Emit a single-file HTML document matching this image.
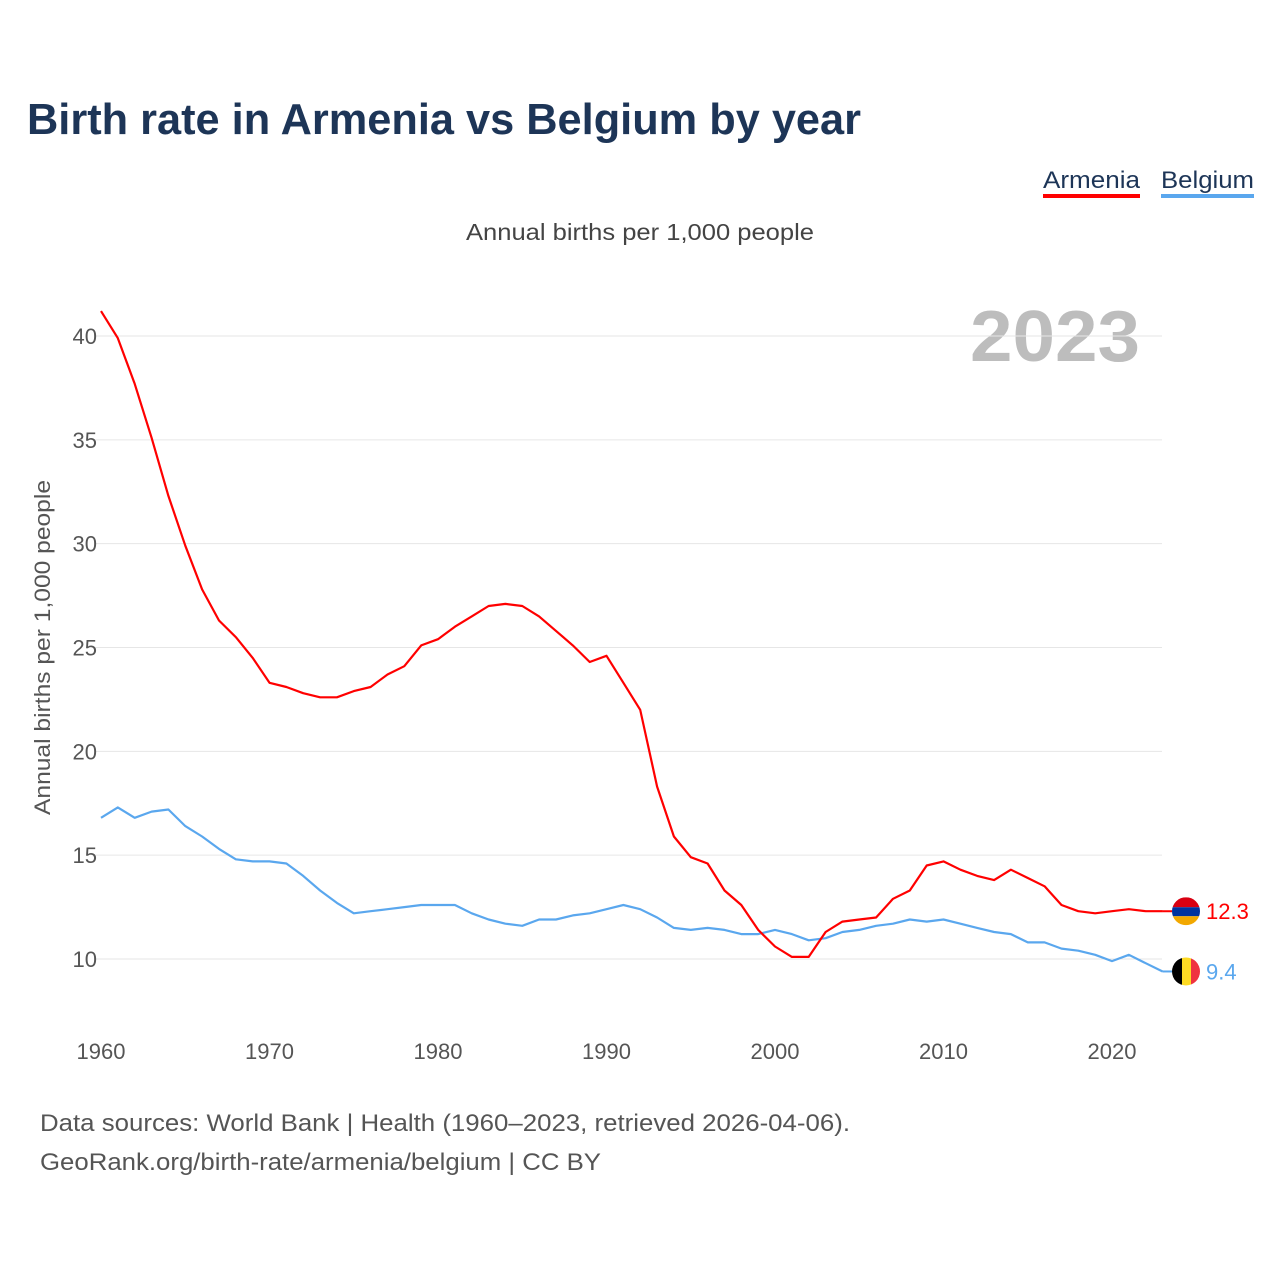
<!DOCTYPE html>
<html><head><meta charset="utf-8"><style>
body{margin:0;background:#fff;font-family:"Liberation Sans",sans-serif}
#wrap{position:relative;width:1280px;height:1280px;background:#fff}
</style></head><body>
<div id="wrap">
<svg id="chart" width="1280" height="1280" font-family="Liberation Sans, sans-serif">
<text x="27" y="134" font-size="44" font-weight="bold" fill="#1d3557" textLength="834" lengthAdjust="spacingAndGlyphs">Birth rate in Armenia vs Belgium by year</text>
<g><text x="1043" y="188" font-size="24" fill="#1d3557" textLength="97" lengthAdjust="spacingAndGlyphs">Armenia</text><rect x="1043" y="194" width="97" height="4" fill="#ff0000"/></g>
<g><text x="1161" y="188" font-size="24" fill="#1d3557" textLength="93" lengthAdjust="spacingAndGlyphs">Belgium</text><rect x="1161" y="194" width="93" height="4" fill="#5aa7ee"/></g>
<text x="466" y="240" font-size="23" fill="#444" textLength="348" lengthAdjust="spacingAndGlyphs">Annual births per 1,000 people</text>
<text x="970" y="361" font-size="72" font-weight="bold" fill="#bdbdbd" textLength="170" lengthAdjust="spacingAndGlyphs">2023</text>
<text transform="translate(50,815) rotate(-90)" font-size="22" fill="#555" textLength="335" lengthAdjust="spacingAndGlyphs">Annual births per 1,000 people</text>
<g id="grid"></g><g id="lines"></g>
<text x="40" y="1131" font-size="24" fill="#555" textLength="810" lengthAdjust="spacingAndGlyphs">Data sources: World Bank | Health (1960–2023, retrieved 2026-04-06).</text>
<text x="40" y="1170" font-size="24" fill="#555" textLength="561" lengthAdjust="spacingAndGlyphs">GeoRank.org/birth-rate/armenia/belgium | CC BY</text>
</svg>
</div>
<script>
const years=[];for(let y=1960;y<=2023;y++)years.push(y);
const armenia=[41.2,39.9,37.7,35.1,32.3,29.9,27.8,26.3,25.5,24.5,23.3,23.1,22.8,22.6,22.6,22.9,23.1,23.7,24.1,25.1,25.4,26.0,26.5,27.0,27.1,27.0,26.5,25.8,25.1,24.3,24.6,23.3,22.0,18.3,15.9,14.9,14.6,13.3,12.6,11.4,10.6,10.1,10.1,11.3,11.8,11.9,12.0,12.9,13.3,14.5,14.7,14.3,14.0,13.8,14.3,13.9,13.5,12.6,12.3,12.2,12.3,12.4,12.3,12.3];
const belgium=[16.8,17.3,16.8,17.1,17.2,16.4,15.9,15.3,14.8,14.7,14.7,14.6,14.0,13.3,12.7,12.2,12.3,12.4,12.5,12.6,12.6,12.6,12.2,11.9,11.7,11.6,11.9,11.9,12.1,12.2,12.4,12.6,12.4,12.0,11.5,11.4,11.5,11.4,11.2,11.2,11.4,11.2,10.9,11.0,11.3,11.4,11.6,11.7,11.9,11.8,11.9,11.7,11.5,11.3,11.2,10.8,10.8,10.5,10.4,10.2,9.9,10.2,9.8,9.4];
const yTicks=[10,15,20,25,30,35,40];
const xTicks=[1960,1970,1980,1990,2000,2010,2020];
const NS="http://www.w3.org/2000/svg";
const xs=y=>101+(y-1960)*(1011/60);
const ys=v=>959-(v-10)*(623/30);
function mk(t,a,p){const e=document.createElementNS(NS,t);for(const k in a)e.setAttribute(k,a[k]);p.appendChild(e);return e;}
const grid=document.getElementById('grid'),lines=document.getElementById('lines');
yTicks.forEach(v=>{
 const l=mk('line',{x1:95,x2:1162,y1:ys(v),y2:ys(v),stroke:'#e6e6e6','stroke-width':1},grid);
 
 
 const t=mk('text',{x:97,y:ys(v)+8,'font-size':22,fill:'#555','text-anchor':'end'},grid);t.textContent=v;
 
 
});
xTicks.forEach(v=>{
 const t=mk('text',{x:xs(v),y:1059,'font-size':22,fill:'#555','text-anchor':'middle'},grid);t.textContent=v;
 
 
});
function series(vals,color,name){
 const d=vals.map((v,i)=>(i?'L':'M')+xs(years[i]).toFixed(1)+','+ys(v).toFixed(1)).join('');
 const p=mk('path',{d:d,fill:'none',stroke:color,'stroke-width':2.2,'stroke-linejoin':'round'},lines);
 
 
 const last=vals[vals.length-1],cy=ys(last);
 mk('line',{x1:xs(2023),x2:1172,y1:cy,y2:cy,stroke:color,'stroke-width':2},lines);
 const g=mk('g',{},lines);
 
 
 const cx=1186,r=14;
 const cp=mk('clipPath',{id:'c'+name},g);mk('circle',{cx:cx,cy:cy,r:r},cp);
 const cg=mk('g',{'clip-path':'url(#c'+name+')'},g);
 if(name==='armenia'){
  mk('rect',{x:cx-r,y:cy-r,width:28,height:10,fill:'#d90012'},cg);
  mk('rect',{x:cx-r,y:cy-r+10,width:28,height:9,fill:'#0033a0'},cg);
  mk('rect',{x:cx-r,y:cy-r+19,width:28,height:9,fill:'#f2a800'},cg);
 }else{
  mk('rect',{x:cx-r,y:cy-r,width:10,height:28,fill:'#000'},cg);
  mk('rect',{x:cx-r+10,y:cy-r,width:9,height:28,fill:'#fdda24'},cg);
  mk('rect',{x:cx-r+19,y:cy-r,width:9,height:28,fill:'#ef3340'},cg);
 }
 const t=mk('text',{x:1206,y:cy+8,'font-size':22,fill:color},lines);t.textContent=last.toFixed(1);
 
 
}
series(belgium,'#5aa7ee','belgium');
series(armenia,'#ff0000','armenia');
</script>
</body></html>
